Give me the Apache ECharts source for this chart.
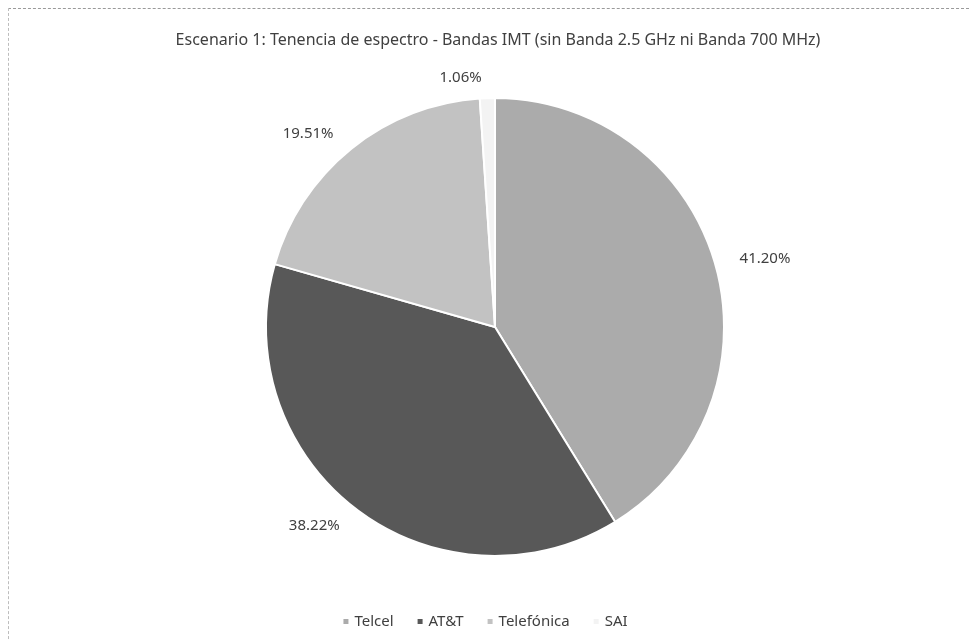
<!DOCTYPE html>
<html>
<head>
    <meta charset="UTF-8">
    <title>Escenario 1</title>
    <script src="https://cdn.jsdelivr.net/npm/echarts@6/dist/echarts.min.js"></script>
    <style type="text/css">
        html, body {
            margin: 0px;
            padding: 0px;
            background: #fff;
        }
        #chart {
            width: 969px;
            height: 640px;
        }
        #frame {
            position: absolute;
            left: 8px;
            top: 8px;
            width: 970px;
            height: 640px;
            border-left: 1px dashed #bdbdbd;
            border-top: 1px dashed #9a9a9a;
            pointer-events: none;
        }
    </style>
</head>
<body>
    <div id="chart"></div>
    <div id="frame"></div>
    <script>
        var titleText = 'Escenario 1: Tenencia de espectro - Bandas IMT (sin Banda 2.5 GHz ni Banda 700 MHz)';
        var operators = ['Telcel', 'AT&T', 'Telefónica', 'SAI'];
        var shares = [41.20, 38.22, 19.51, 1.06];
        var colors = ['#ababab', '#585858', '#c2c2c2', '#f3f3f3'];

        var pieData = operators.map(function (name, i) {
            return { name: name, value: shares[i], itemStyle: { color: colors[i] } };
        });

        var chart = echarts.init(document.getElementById('chart'), null, { renderer: 'canvas' });
        chart.setOption({
            backgroundColor: '#ffffff',
            animation: false,
            title: {
                text: titleText,
                left: 493,
                top: 27,
                textAlign: 'center',
                textStyle: {
                    fontFamily: 'Noto Sans',
                    fontSize: 16,
                    fontWeight: 'normal',
                    color: '#404040'
                }
            },
            legend: {
                data: operators,
                bottom: 6,
                left: 'center',
                itemWidth: 7,
                itemHeight: 7,
                itemGap: 22,
                icon: 'rect',
                textStyle: {
                    fontFamily: 'Noto Sans',
                    fontSize: 15,
                    color: '#404040'
                }
            },
            series: [{
                type: 'pie',
                center: [495, 327],
                radius: 229,
                startAngle: 90,
                clockwise: true,
                data: pieData,
                itemStyle: {
                    borderColor: '#ffffff',
                    borderWidth: 2
                },
                label: {
                    show: true,
                    position: 'outside',
                    formatter: function (p) { return p.value.toFixed(2) + '%'; },
                    fontFamily: 'Noto Sans',
                    fontSize: 15,
                    color: '#404040'
                },
                labelLine: {
                    show: false,
                    length: 20,
                    length2: 0
                }
            }]
        });
    </script>
</body>
</html>
